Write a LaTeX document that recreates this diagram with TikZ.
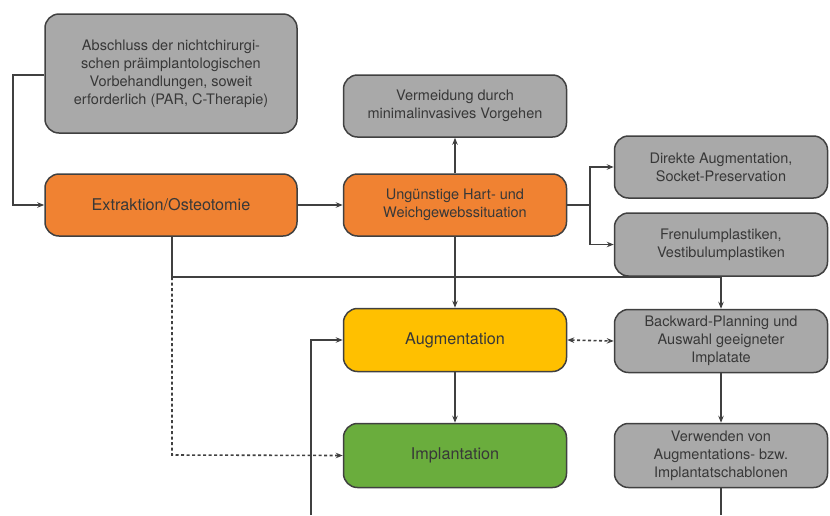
\documentclass[tikz,border=0pt]{standalone}
\usepackage{fontspec}
\setmainfont{TeX Gyre Heros}
\usetikzlibrary{arrows.meta,positioning}
\definecolor{boxgray}{HTML}{A9A9A9}
\definecolor{boxorange}{HTML}{F08232}
\definecolor{boxyellow}{HTML}{FFC000}
\definecolor{boxgreen}{HTML}{6AAD3D}
\definecolor{edgecol}{HTML}{404040}
\definecolor{txtcol}{HTML}{383838}
\tikzset{
  box/.style={draw=edgecol, line width=1.5pt, rounded corners=14pt, align=center,
    text=txtcol, font=\fontsize{14.5}{18}\selectfont, inner sep=0pt},
  big/.style={font=\fontsize{16.2}{19}\selectfont},
  graybox/.style={box, fill=boxgray},
  orangebox/.style={box, fill=boxorange},
  yellowbox/.style={box, fill=boxyellow},
  greenbox/.style={box, fill=boxgreen},
  conn/.style={draw=edgecol, line width=1.6pt, -{Stealth[length=7pt,width=5.5pt]}},
  plain/.style={draw=edgecol, line width=1.6pt},
  dots/.style={draw=edgecol, line width=1.6pt, dash pattern=on 3pt off 2.5pt, -{Stealth[length=7pt,width=5.5pt]}},
}
\begin{document}
\begin{tikzpicture}[x=1pt,y=-1pt]
\useasboundingbox (0,0) rectangle (830,515);
% boxes
\node[graybox, minimum width=252pt, minimum height=119pt] (abs) at (171,73.5)
 {Abschluss der nichtchirurgi-\\schen präimplantologischen\\Vorbehandlungen, soweit\\erforderlich (PAR, C-Therapie)};
\node[orangebox, big, minimum width=252pt, minimum height=62pt] (ext) at (171,205) {Extraktion/Osteotomie};
\node[graybox, minimum width=223pt, minimum height=62pt] (verm) at (455,106) {Vermeidung durch\\minimalinvasives Vorgehen};
\node[orangebox, minimum width=223pt, minimum height=62pt] (ung) at (455,205) {Ungünstige Hart- und\\Weichgewebssituation};
\node[graybox, minimum width=213pt, minimum height=62pt] (dir) at (721,167) {Direkte Augmentation,\\Socket-Preservation};
\node[graybox, minimum width=213pt, minimum height=63pt] (fren) at (721,244.5) {Frenulumplastiken,\\Vestibulumplastiken};
\node[yellowbox, big, minimum width=223pt, minimum height=63pt] (aug) at (455,340) {Augmentation};
\node[greenbox, big, minimum width=223pt, minimum height=64pt] (impl) at (455,455.5) {Implantation};
\node[graybox, minimum width=213pt, minimum height=63pt] (back) at (721,341) {Backward-Planning und\\Auswahl geeigneter\\Implatate};
\node[graybox, minimum width=213pt, minimum height=64pt] (verw) at (721,455.5) {Verwenden von\\Augmentations- bzw.\\Implantatschablonen};
% helper coordinates
\coordinate (a1) at (13,75);
\coordinate (hl) at (172,277);
\coordinate (br) at (590,205);
\coordinate (dl) at (172,455);
\coordinate (lb) at (311,515);
\coordinate (lt) at (311,340);
\coordinate (bottom) at (0,515);
% connectors
\draw[conn] (abs.west |- a1) -- (a1) |- (ext.west);
\draw[conn] (ext.east) -- (ung.west);
\draw[conn] (ung.north) -- (verm.south);
\draw[plain] (ung.east) -- (br);
\draw[conn] (br) |- (dir.west);
\draw[conn] (br) |- (fren.west);
\draw[plain] (ext.south -| hl) -- (hl);
\draw[conn] (hl) -| (back.north);
\draw[conn] (ung.south) -- (aug.north);
\draw[dots] (hl) -- (dl) -- (impl.west);
\draw[conn] (aug.south) -- (impl.north);
\draw[conn] (lb) -- (lt) -- (aug.west);
\draw[dots, {Stealth[length=7pt,width=5.5pt]}-{Stealth[length=7pt,width=5.5pt]}] (aug.east) -- (back.west);
\draw[conn] (back.south) -- (verw.north);
\draw[plain] (verw.south) -- (verw.south |- bottom);
\end{tikzpicture}
\end{document}
